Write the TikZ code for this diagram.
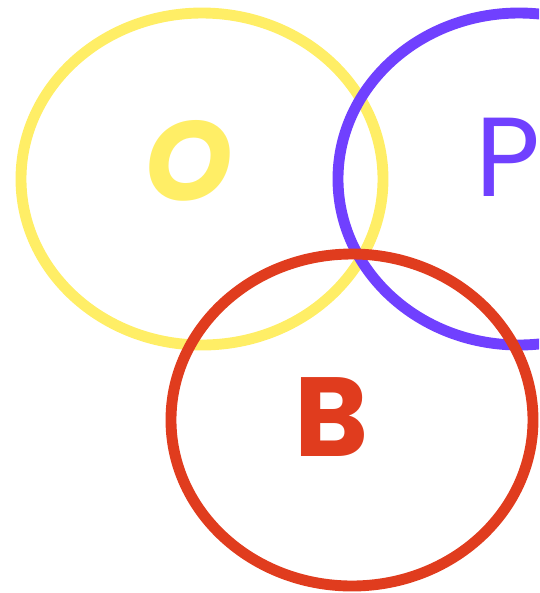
\documentclass[tikz,border=0pt]{standalone}
\usepackage{fontspec}
\usepackage{tikz}
\usepackage{xcolor}
\setsansfont{Poppins}
\definecolor{sunyellow}{HTML}{FFEE66}
\definecolor{violetring}{HTML}{7040FF}
\definecolor{brickred}{HTML}{E03C1E}
\tikzset{
  ring/.style={line width=6.2pt},
  letter/.style={inner sep=0pt,font=\sffamily\fontsize{64}{64}\selectfont}
}
\begin{document}
\begin{tikzpicture}[x=0.02cm,y=-0.02cm]
			\useasboundingbox (0,0) rectangle (539,593);
			\clip (0,0) rectangle (539,593);
			\draw[ring,sunyellow] (202,179) ellipse (181 and 166);
			\draw[ring,violetring] (519,179) ellipse (181 and 166);
			\draw[ring,brickred] (352,420) ellipse (181 and 166);
			\node[letter,sunyellow,font=\sffamily\bfseries\itshape\fontsize{64}{64}\selectfont] (o) at (189,161) {O};
			\node[letter,violetring] (p) at (508,157) {P};
			\node[letter,brickred,font=\sffamily\bfseries\fontsize{64}{64}\selectfont] (b) at (332,417) {B};
		\end{tikzpicture}
\end{document}
